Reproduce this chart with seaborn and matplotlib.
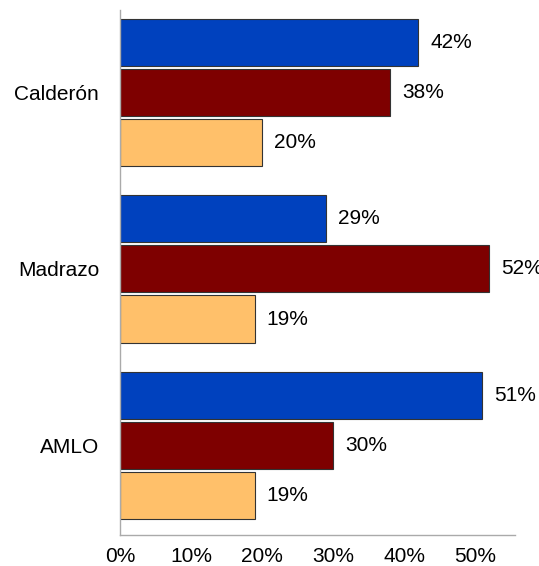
import numpy as np
import pandas as pd
import matplotlib
matplotlib.use('Agg')
import matplotlib.pyplot as plt
import seaborn as sns

candidatos = ['Calderón', 'Madrazo', 'AMLO']
series = ['Serie 1', 'Serie 2', 'Serie 3']
serie1 = [42, 29, 51]
serie2 = [38, 52, 30]
serie3 = [20, 19, 19]
colores = ['#0041BE', '#7E0000', '#FFC06A']

df = pd.DataFrame({
    'cand': candidatos * 3,
    'serie': [series[0]] * 3 + [series[1]] * 3 + [series[2]] * 3,
    'val': serie1 + serie2 + serie3,
})

sns.set_style('white')
plt.rcParams['font.family'] = ['Liberation Sans', 'DejaVu Sans']
plt.rcParams['text.color'] = 'black'
plt.rcParams['xtick.color'] = 'black'
plt.rcParams['ytick.color'] = 'black'

fig = plt.figure(figsize=(5.39, 5.66), dpi=100)
ax = fig.add_axes([0.2226, 0.0548, 0.7329, 0.9275])

sns.barplot(data=df, y='cand', x='val', hue='serie', order=candidatos,
            hue_order=series, palette=colores, saturation=1, orient='h',
            width=0.852, gap=0.06, edgecolor='#333333', linewidth=0.8,
            legend=False, ax=ax)

for c in ax.containers:
    ax.bar_label(c, fmt='%d%%', padding=8.5, fontsize=15, color='black')

ax.set_xlim(0, 55.6)
ax.set_ylim(2.51, -0.47)
ax.set_xticks([0, 10, 20, 30, 40, 50])
ax.set_xticklabels(['0%', '10%', '20%', '30%', '40%', '50%'])
ax.set_xlabel('')
ax.set_ylabel('')
ax.tick_params(axis='both', length=0, labelsize=15, labelcolor='black')
ax.tick_params(axis='y', pad=15)
ax.tick_params(axis='x', pad=9)
for s in ['top', 'right']:
    ax.spines[s].set_visible(False)
for s in ['left', 'bottom']:
    ax.spines[s].set_color('#aaaaaa')
    ax.spines[s].set_linewidth(1)

fig.savefig('out.png', dpi=100)
